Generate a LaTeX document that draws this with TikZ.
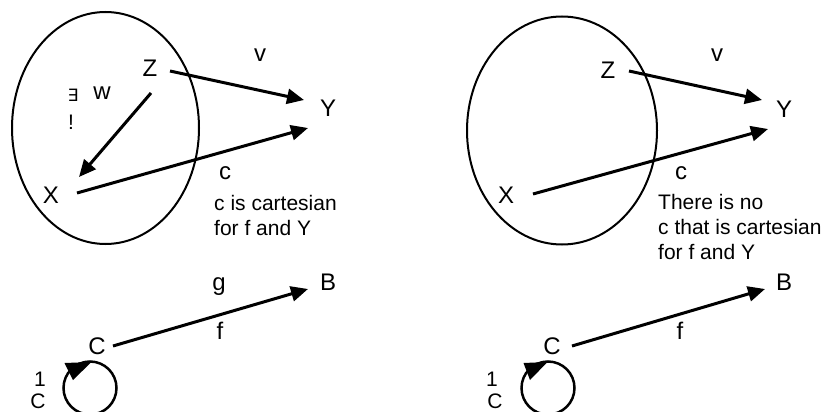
\documentclass[tikz,border=0pt]{standalone}
\usepackage{fontspec}
\setmainfont{Liberation Sans}
\newfontfamily\dejavu{DejaVu Sans}
\usetikzlibrary{arrows.meta}
\begin{document}
\begin{tikzpicture}[x=1pt,y=-1pt,
  lbl/.style={inner sep=0pt,font=\fontsize{24}{28}\selectfont},
  sub/.style={inner sep=0pt,font=\fontsize{21}{24}\selectfont},
  txt/.style={inner sep=0pt,align=left,anchor=north west,font=\fontsize{21}{25}\selectfont},
  arr/.style={line width=3pt,-{Triangle[length=17pt,width=15pt]}},
  oval/.style={line width=2pt},
  loopc/.style={line width=2.5pt}]
\useasboundingbox (0,0) rectangle (830,412);
\fill[white] (0,0) rectangle (830,412);
% ---------- left panel ----------
\draw[oval] (105.5,128) ellipse[x radius=93.5, y radius=116];
\node[lbl] (Z1) at (150,68) {Z};
\node[lbl] (v1) at (260,55) {v};
\node[lbl] (Y1) at (328,108) {Y};
\node[lbl] (w1) at (102,93) {w};
\node[inner sep=0pt,font=\dejavu\fontsize{17}{19}\selectfont] (E1) at (73,95) {∃};
\node[sub] (ex1) at (71,122) {!};
\node[lbl] (X1) at (51,195) {X};
\node[lbl] (c1) at (225,173) {c};
\node[txt] (t1) at (214,195) {c is cartesian\\for f and Y};
\draw[arr] ([shift={(20,3)}]Z1.center) -- ([shift={(-24,-8)}]Y1.center);
\draw[arr] ([shift={(1,25)}]Z1.center) -- ([shift={(28,-18)}]X1.center);
\draw[arr] ([shift={(26,-2)}]X1.center) -- ([shift={(-20,20)}]Y1.center);
\node[lbl] (g1) at (219,287) {g};
\node[lbl] (B1) at (328,282) {B};
\node[lbl] (f1) at (220,331) {f};
\node[lbl] (C1) at (97,346) {C};
\draw[arr] ([shift={(16,0)}]C1.center) -- ([shift={(-20,7)}]B1.center);
\coordinate (L1) at (90,388);
\draw[loopc] (L1) circle[radius=26.5];
\fill ([shift={(-25.5,-25)}]L1) -- ([shift={(1.5,-26)}]L1) -- ([shift={(-17,-8)}]L1) -- cycle;
\node[sub] (one1) at (40,379) {1};
\node[sub] (cc1) at (38,401) {C};
% ---------- right panel ----------
\draw[oval] (562,130.5) ellipse[x radius=95, y radius=114];
\node[lbl] (Z2) at (608,70) {Z};
\node[lbl] (v2) at (717,55) {v};
\node[lbl] (Y2) at (784,109) {Y};
\node[lbl] (X2) at (506,195) {X};
\node[lbl] (c2) at (681,173) {c};
\node[txt] (t2) at (658,194) {There is no\\c that is cartesian\\for f and Y};
\draw[arr] ([shift={(21,1)}]Z2.center) -- ([shift={(-22,-9)}]Y2.center);
\draw[arr] ([shift={(27,-1)}]X2.center) -- ([shift={(-16,20)}]Y2.center);
\node[lbl] (B2) at (784,282) {B};
\node[lbl] (f2) at (680,331) {f};
\node[lbl] (C2) at (552,346) {C};
\draw[arr] ([shift={(20,0)}]C2.center) -- ([shift={(-19,7)}]B2.center);
\coordinate (L2) at (548,388);
\draw[loopc] (L2) circle[radius=26.5];
\fill ([shift={(-24.5,-25)}]L2) -- ([shift={(-0.5,-26)}]L2) -- ([shift={(-18,-8)}]L2) -- cycle;
\node[sub] (one2) at (492,379) {1};
\node[sub] (cc2) at (495,401) {C};
\end{tikzpicture}
\end{document}
